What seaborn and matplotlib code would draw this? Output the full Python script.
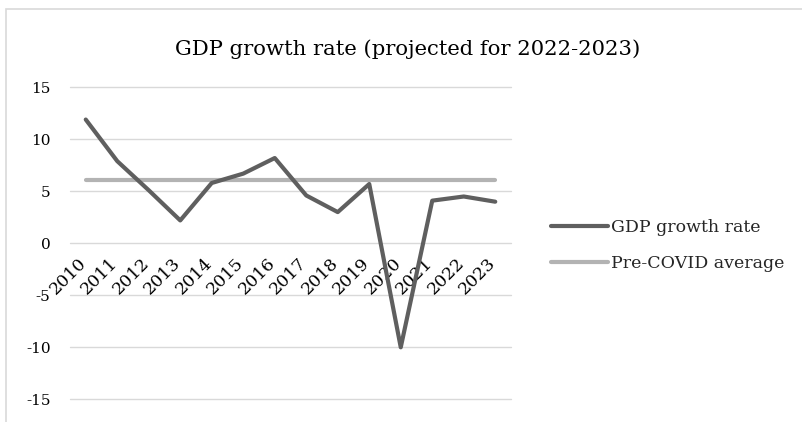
import matplotlib
matplotlib.use("Agg")
import matplotlib.pyplot as plt
import matplotlib.patches as mpatches
import matplotlib.transforms as mtrans
import seaborn as sns
import pandas as pd

years = ["2010", "2011", "2012", "2013", "2014", "2015", "2016",
         "2017", "2018", "2019", "2020", "2021", "2022", "2023"]
gdp_growth = [11.9, 7.9, 5.1, 2.2, 5.8, 6.7, 8.2, 4.6, 3.0, 5.7, -10.0, 4.1, 4.5, 4.0]
pre_covid_avg = [6.1] * len(years)
series_names = ["GDP growth rate", "Pre-COVID average"]
title = "GDP growth rate (projected for 2022-2023)"
y_ticks = [-15, -10, -5, 0, 5, 10, 15]

sns.set_theme(style="white")
plt.rcParams["font.family"] = ["DejaVu Serif"]

pos = list(range(len(years)))
df = pd.DataFrame({
    "pos": pos * 2,
    "value": gdp_growth + pre_covid_avg,
    "series": [series_names[0]] * len(years) + [series_names[1]] * len(years),
})

fig = plt.figure(figsize=(8.03, 4.22), dpi=100)
ax = fig.add_axes([70 / 803, 1 - 399.3 / 422, 441 / 803, (399.3 - 87.3) / 422])

# chart border (extends beyond the image on right and bottom)
fig.patches.append(mpatches.Rectangle((6 / 803, -0.2), 1.5, 1.2 - 8.7 / 422,
                                      transform=fig.transFigure, fill=False,
                                      edgecolor="#d9d9d9", linewidth=1.2, zorder=0))

sns.lineplot(data=df, x="pos", y="value", hue="series", hue_order=[series_names[1], series_names[0]],
             palette={series_names[0]: "#5f5f5f", series_names[1]: "#b3b3b3"},
             sort=False, linewidth=3.0, ax=ax, legend=False)
for ln in ax.get_lines():
    ln.set_solid_capstyle("round")
    ln.set_solid_joinstyle("round")

ax.set_xlim(-0.5, len(years) - 0.5)
ax.set_ylim(-15, 15)
ax.set_yticks(y_ticks)
ax.set_yticklabels([str(t) for t in y_ticks])
ax.yaxis.grid(True, color="#d9d9d9", linewidth=1.0)
for gl in ax.get_ygridlines():
    gl.set_clip_on(False)
ax.set_axisbelow(True)
for s in ["top", "right", "left"]:
    ax.spines[s].set_visible(False)
ax.spines["bottom"].set_position(("data", 0))
ax.spines["bottom"].set_visible(False)
ax.set_xticks(pos)
ax.set_xticklabels(years, rotation=45, ha="right", va="top", rotation_mode="default")
ax.tick_params(axis="x", length=0, pad=8, labelsize=12.5, colors="#000000")
ax.tick_params(axis="y", length=0, pad=14, labelsize=11, colors="#000000")
off = mtrans.ScaledTranslation(4 / 100, 0, fig.dpi_scale_trans)
for lab in ax.get_xticklabels():
    lab.set_transform(lab.get_transform() + off)
ax.set_xlabel("")
ax.set_ylabel("")

fig.text(408 / 803, 1 - 49 / 422, title, ha="center", va="center", fontsize=15.2, color="#000000")

handles = [plt.Line2D([], [], color="#5f5f5f", lw=3.0, solid_capstyle="round"),
           plt.Line2D([], [], color="#b3b3b3", lw=3.0, solid_capstyle="round")]
leg = fig.legend(handles, series_names, loc="upper left", bbox_to_anchor=(544 / 803, 1 - 212 / 422),
                 frameon=False, fontsize=12.5, handlelength=3.3, handletextpad=0.15,
                 labelspacing=1.1, borderaxespad=0)

fig.savefig("out.png", dpi=100)
